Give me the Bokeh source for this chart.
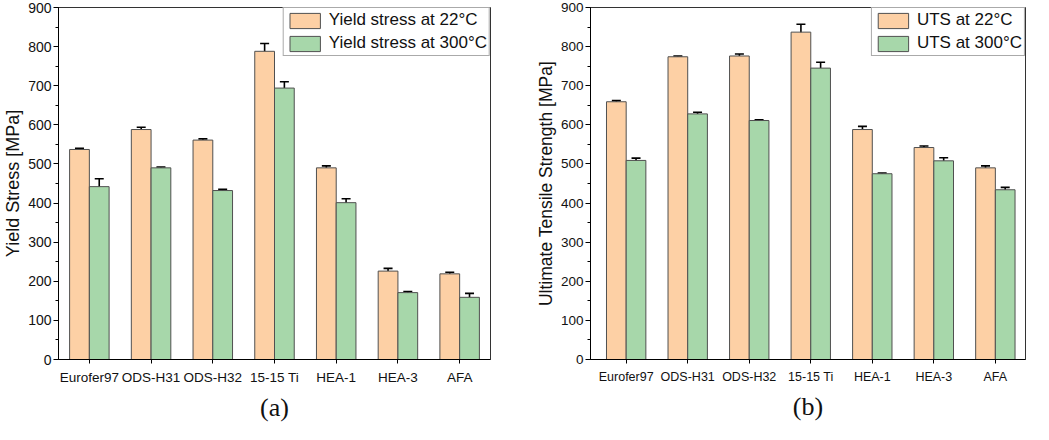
from bokeh.plotting import figure
from bokeh.models import (ColumnDataSource, Range1d, FixedTicker, SingleIntervalTicker,
                          Whisker, TeeHead, Legend, LegendItem, Title)
from bokeh.transform import dodge
from bokeh.layouts import row
from bokeh.embed import file_html
from bokeh.resources import INLINE

categories = ["Eurofer97", "ODS-H31", "ODS-H32", "15-15 Ti", "HEA-1", "HEA-3", "AFA"]

ys_22 = [537, 588, 561, 788, 490, 226, 219]
ys_22_err = [3, 6, 3, 20, 5, 7, 4]
ys_300 = [442, 490, 432, 694, 401, 171, 159]
ys_300_err = [20, 2, 3, 16, 10, 3, 10]

uts_22 = [659, 774, 776, 837, 588, 542, 490]
uts_22_err = [3, 2, 5, 20, 8, 4, 5]
uts_300 = [509, 628, 611, 745, 475, 508, 434]
uts_300_err = [6, 4, 2, 15, 2, 8, 6]

y_ticks = [0, 100, 200, 300, 400, 500, 600, 700, 800, 900]

ORANGE = "#FDD0A5"
GREEN = "#A7D7AA"
EDGE = "#505050"
FONT = "Liberation Sans"
BAR_W = 0.32


def make_panel(v22, e22, v300, e300, ylabel, lab22, lab300, tag, xr, width,
               border_left, border_right, tag_offset, xfs, yfs, lfs):
    idx = list(range(len(categories)))
    src = ColumnDataSource(dict(
        idx=idx, v22=v22, v300=v300,
        lo22=[v - e for v, e in zip(v22, e22)], hi22=[v + e for v, e in zip(v22, e22)],
        lo300=[v - e for v, e in zip(v300, e300)], hi300=[v + e for v, e in zip(v300, e300)],
    ))
    p = figure(width=width, height=424, output_backend="svg", toolbar_location=None,
               x_range=Range1d(*xr), y_range=Range1d(y_ticks[0], y_ticks[-1]),
               min_border_left=border_left, min_border_right=border_right,
               min_border_top=7, min_border_bottom=64)
    p.xgrid.visible = False
    p.ygrid.visible = False
    p.outline_line_color = "#333333"
    p.outline_line_width = 1

    r1 = p.vbar(x=dodge("idx", -BAR_W / 2), top="v22", width=BAR_W, bottom=0, source=src,
                fill_color=ORANGE, line_color=EDGE, line_width=1)
    r2 = p.vbar(x=dodge("idx", BAR_W / 2), top="v300", width=BAR_W, bottom=0, source=src,
                fill_color=GREEN, line_color=EDGE, line_width=1)

    for off, lo, hi in [(-BAR_W / 2, "lo22", "hi22"), (BAR_W / 2, "lo300", "hi300")]:
        w = Whisker(source=src, base=dodge("idx", off), lower=lo, upper=hi,
                    line_color="black", line_width=1.6,
                    lower_head=TeeHead(size=9, line_width=1.6, line_color="black"),
                    upper_head=TeeHead(size=9, line_width=1.6, line_color="black"))
        p.add_layout(w)

    # x axis
    p.xaxis.ticker = FixedTicker(ticks=idx)
    p.xaxis.major_label_overrides = {i: c for i, c in enumerate(categories)}
    p.xaxis.major_tick_out = 4
    p.xaxis.major_tick_in = 0
    p.xaxis.minor_tick_line_color = None
    p.xaxis.major_label_text_font = FONT
    p.xaxis.major_label_text_font_size = xfs
    p.xaxis.major_label_text_color = "#111111"
    p.xaxis.major_label_standoff = 6
    p.xaxis.axis_line_color = "black"

    # y axis
    p.yaxis.ticker = SingleIntervalTicker(interval=100, num_minor_ticks=2)
    p.yaxis.major_tick_out = 5
    p.yaxis.major_tick_in = 0
    p.yaxis.minor_tick_out = 3
    p.yaxis.minor_tick_in = 0
    p.yaxis.major_label_text_font = FONT
    p.yaxis.major_label_text_font_size = yfs
    p.yaxis.major_label_text_color = "#111111"
    p.yaxis.major_label_standoff = 2
    p.yaxis.axis_label = ylabel
    p.yaxis.axis_label_text_font = FONT
    p.yaxis.axis_label_text_font_size = lfs
    p.yaxis.axis_label_text_font_style = "normal"
    p.yaxis.axis_label_text_color = "#111111"
    p.yaxis.axis_label_standoff = 2
    p.yaxis.axis_line_color = "black"

    legend = Legend(items=[LegendItem(label=lab22, renderers=[r1]),
                           LegendItem(label=lab300, renderers=[r2])],
                    location="top_right", margin=0, padding=2, spacing=3,
                    glyph_width=38, glyph_height=19, label_height=19, label_standoff=5,
                    label_text_font=FONT, label_text_font_size="17px",
                    label_text_color="#111111",
                    border_line_color="#555555", border_line_width=1,
                    background_fill_color="white", background_fill_alpha=1)
    p.add_layout(legend)

    p.add_layout(Title(text=tag, align="center", offset=tag_offset, standoff=6,
                       text_font="Liberation Serif", text_font_size="26px",
                       text_font_style="normal", text_color="#111111"), "below")
    return p


pa = make_panel(ys_22, ys_22_err, ys_300, ys_300_err, "Yield Stress [MPa]",
                "Yield stress at 22°C", "Yield stress at 300°C", "(a)",
                (-0.5, 6.5), 530, 53, 40, -22, "13.5px", "14px", "18px")
pb = make_panel(uts_22, uts_22_err, uts_300, uts_300_err, "Ultimate Tensile Strength [MPa]",
                "UTS at 22°C", "UTS at 300°C", "(b)",
                (-0.58, 6.49), 503, 60, 8, -20, "12.5px", "13.5px", "17.5px")

layout = row(pa, pb)
open("out.html", "w").write(file_html(layout, INLINE))
